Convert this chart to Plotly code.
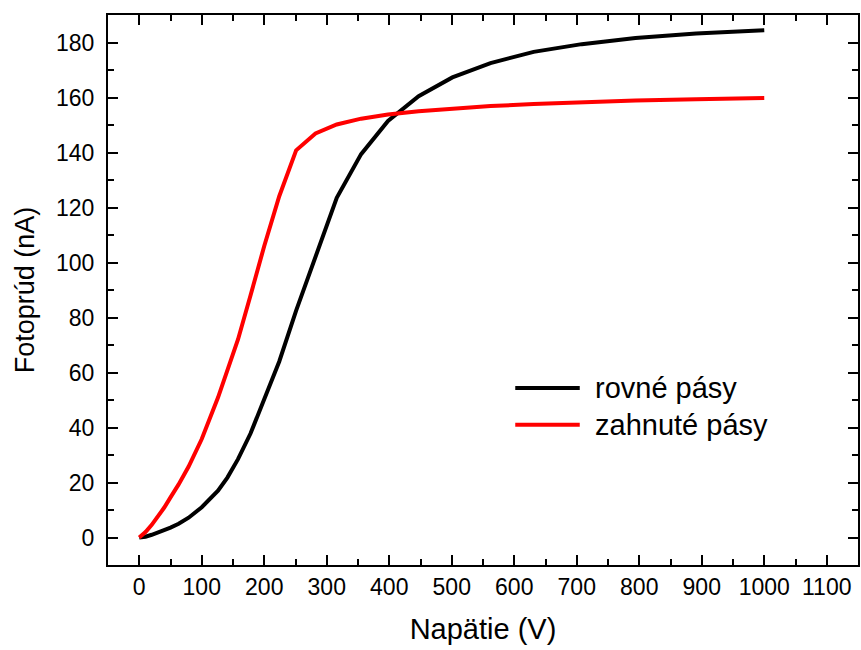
import plotly.graph_objects as go

# Napätie (V) - measurement points
voltage = [0, 10, 20, 30, 40, 50, 63, 79, 100, 126, 141, 158, 178, 200, 224,
           251, 282, 316, 355, 398, 447, 501, 562, 631, 708, 794, 891, 1000]

# Fotoprúd (nA)
rovne_pasy = [0, 0.3, 1.0, 1.8, 2.7, 3.6, 5.0, 7.2, 11.0, 17.0, 21.8, 28.5,
              37.8, 50.0, 64.0, 82.5, 102.4, 123.5, 139.4, 151.5, 160.5,
              167.3, 172.5, 176.6, 179.4, 181.6, 183.3, 184.5]
zahnute_pasy = [0, 2.0, 4.6, 7.5, 10.9, 14.6, 19.3, 25.8, 35.8, 50.9, 60.3,
                72.0, 88.0, 106.0, 124.1, 140.8, 146.9, 150.2, 152.3, 153.8,
                155.0, 156.0, 156.9, 157.6, 158.3, 158.9, 159.4, 159.8]

series_names = ["rovné pásy", "zahnuté pásy"]
series_colors = ["#000000", "#ff0000"]

FONT = "Arial, Liberation Sans, sans-serif"

fig = go.Figure()
for name, ys, color in zip(series_names, [rovne_pasy, zahnute_pasy], series_colors):
    fig.add_trace(go.Scatter(x=voltage, y=ys, mode="lines", name=name,
                             line=dict(color=color, width=4),
                             showlegend=False))

# legend drawn by hand so the sample lines are as long as in the original
legend_y = [0.322, 0.255]
for name, color, ly in zip(series_names, series_colors, legend_y):
    fig.add_shape(type="line", xref="paper", yref="paper",
                  x0=0.543, x1=0.629, y0=ly, y1=ly,
                  line=dict(color=color, width=4))
    fig.add_annotation(xref="paper", yref="paper", x=0.647, y=ly,
                       text=name, showarrow=False, xanchor="left",
                       yanchor="middle", font=dict(size=29, color="black", family=FONT))

axis_common = dict(
    showline=True, linecolor="black", linewidth=2, mirror="allticks",
    ticks="inside", ticklen=10, tickwidth=2, tickcolor="black",
    showgrid=False, zeroline=False,
    tickfont=dict(size=23, color="black", family=FONT),
    minor=dict(ticks="inside", ticklen=6, tickwidth=2, tickcolor="black", showgrid=False),
)

fig.update_xaxes(range=[-50, 1150], dtick=100, tick0=0, minor_dtick=50,
                 title_text="Napätie (V)", title_standoff=20,
                 title_font=dict(size=29, color="black", family=FONT),
                 ticklabelstandoff=0, **axis_common)
fig.update_yaxes(range=[-10, 190], dtick=20, tick0=0, minor_dtick=10,
                 title_text="Fotoprúd (nA)", title_standoff=14,
                 title_font=dict(size=27, color="black", family=FONT),
                 ticklabelstandoff=7, **axis_common)

fig.update_layout(
    width=861, height=650,
    margin=dict(l=108, r=3, t=15, b=85, autoexpand=False),
    plot_bgcolor="white", paper_bgcolor="white",
    font=dict(family=FONT, color="black"),
)

# page body margin would otherwise push the figure off the window
fig.write_html("out.html", config={"displayModeBar": False},
               post_script="document.body.style.margin='0px';")
